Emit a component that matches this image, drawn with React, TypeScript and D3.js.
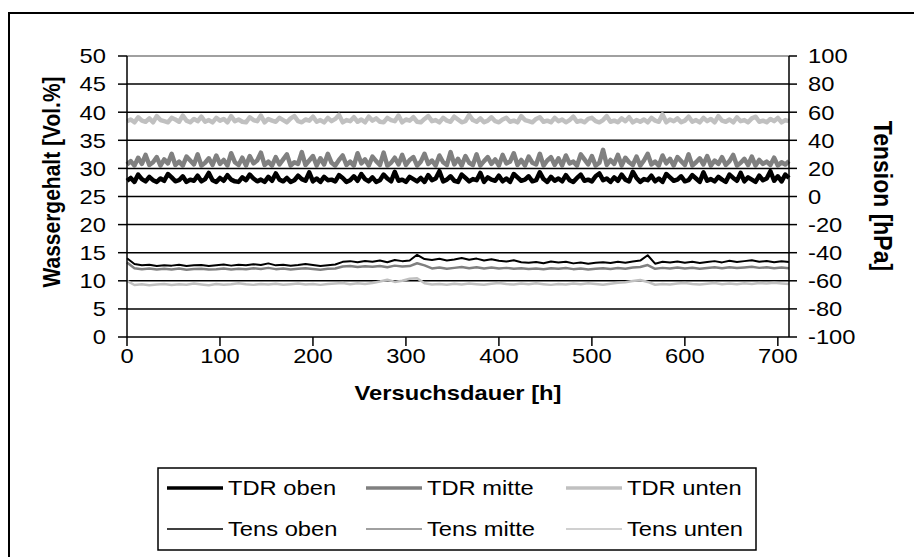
import React from 'react';
import * as d3 from 'd3';

// sampling intervals of the logged series (hours)
const STEP_TDR_H = 4;
const STEP_TENS_H = 8;

// Water content (Vol.%) – left axis
const tdrOben = [
  27.8,28.3,27.6,28.9,28.1,27.7,28.5,27.9,27.6,28.2,27.8,29.0,28.4,27.7,27.9,28.6,27.6,28.0,27.8,28.7,
  27.7,28.1,29.2,27.9,27.6,28.3,27.8,28.8,28.0,27.7,27.6,28.4,27.9,28.9,28.2,27.7,28.0,27.6,28.5,27.8,
  29.1,28.0,27.7,28.3,27.6,27.9,28.7,28.1,27.8,29.3,27.7,28.2,27.6,28.5,27.9,28.0,27.7,28.8,28.3,27.6,
  27.9,28.6,27.8,29.0,28.1,27.7,28.4,27.6,27.9,28.9,28.2,27.7,29.4,27.8,28.0,27.6,28.5,28.1,27.7,28.3,
  27.6,28.8,27.9,28.2,29.5,27.7,28.0,28.6,27.8,27.6,28.9,28.3,27.7,28.1,27.9,29.2,27.6,28.4,28.0,27.8,
  28.7,27.7,28.2,27.6,29.0,28.4,27.8,28.0,28.6,27.7,27.9,29.3,28.1,27.6,28.5,27.8,28.2,27.7,28.8,27.9,
  27.6,28.3,28.9,27.8,28.0,27.7,28.6,29.1,27.9,28.2,27.6,28.4,27.8,28.9,28.0,27.7,29.4,28.3,27.6,28.1,
  27.9,28.7,27.7,28.2,27.6,29.0,28.4,27.8,28.0,28.6,27.7,27.9,28.8,28.2,27.6,29.3,27.8,28.1,27.7,28.5,
  28.0,27.6,28.9,28.3,27.8,29.2,27.7,28.4,28.0,27.6,28.7,27.9,28.2,29.5,27.8,28.6,27.7,28.9,28.3,
];
const tdrMitte = [
  30.7,31.3,30.5,31.9,30.8,32.4,30.6,31.1,32.0,30.5,31.6,30.9,32.6,30.6,31.2,30.5,32.1,31.4,30.7,32.5,
  30.5,31.0,31.8,30.6,32.3,30.8,31.5,30.5,32.7,31.1,30.6,31.9,30.5,32.2,30.9,31.4,32.8,30.6,31.2,30.5,
  32.0,30.7,31.6,32.5,30.5,31.1,30.8,32.9,30.6,31.4,32.2,30.5,31.8,30.7,32.6,31.0,30.5,31.5,32.3,30.6,
  31.2,30.5,32.7,30.9,31.6,30.5,32.1,31.3,30.6,32.8,30.5,31.0,31.9,30.7,32.4,30.6,31.5,32.0,30.5,31.2,
  32.6,30.8,31.4,30.5,32.3,31.1,30.6,32.9,30.7,31.7,30.5,32.2,31.0,30.6,32.5,30.5,31.3,32.0,30.8,31.6,
  30.5,32.4,30.9,31.2,32.7,30.6,31.5,30.5,32.1,31.0,30.7,32.6,30.5,31.4,32.0,30.6,31.8,30.5,32.3,30.9,
  31.2,30.5,32.5,31.6,30.7,32.2,30.5,31.0,33.3,30.6,31.5,30.8,32.4,30.5,31.9,31.1,30.6,32.1,30.5,31.4,
  32.6,30.7,31.2,30.5,32.3,30.9,31.7,30.5,32.0,31.3,30.6,32.5,30.5,31.1,31.8,30.7,32.2,30.5,31.4,30.8,
  32.0,30.6,31.3,32.4,30.5,31.0,31.7,30.6,32.1,30.5,31.5,30.8,31.2,30.6,31.9,30.5,31.1,30.7,31.3,
];
const tdrUnten = [
  38.4,38.7,38.2,39.1,38.5,38.3,38.9,38.2,39.3,38.6,38.4,38.2,39.0,38.7,38.3,39.4,38.5,38.2,38.8,38.4,
  39.2,38.3,38.6,38.2,39.0,38.5,38.8,38.2,39.3,38.4,38.7,38.3,38.2,39.1,38.6,38.4,39.4,38.2,38.8,38.5,
  38.3,39.0,38.6,38.2,38.9,39.3,38.4,38.2,38.7,38.5,39.2,38.3,38.6,38.2,39.0,38.4,38.8,39.5,38.2,38.6,
  38.4,39.1,38.3,38.7,38.2,39.2,38.5,38.9,38.3,38.2,39.0,38.6,38.4,39.4,38.2,38.7,38.5,39.1,38.3,38.2,
  38.8,39.3,38.4,38.6,38.2,39.0,38.5,38.3,39.2,38.7,38.2,38.4,39.5,38.6,38.3,38.9,38.2,38.5,39.1,38.4,
  38.2,38.7,39.0,38.3,38.5,38.2,39.3,38.6,38.4,38.2,38.8,39.1,38.3,38.5,38.2,39.0,38.4,38.7,38.2,38.6,
  39.2,38.3,38.5,38.2,38.8,39.0,38.4,38.2,38.6,39.3,38.3,38.5,38.2,38.9,38.4,39.1,38.2,38.6,38.3,38.7,
  38.2,39.0,38.5,38.3,39.6,38.2,38.7,38.4,38.9,38.2,38.5,39.2,38.3,38.6,38.2,39.0,38.4,38.8,38.2,39.3,
  38.5,38.3,38.7,38.2,39.1,38.4,38.6,38.2,38.9,39.2,38.3,38.5,38.2,38.8,38.4,39.0,38.2,38.6,38.4,
];

// Tension (hPa) – right axis
const tensOben = [
  -44,-48,-49,-48.5,-49.5,-49,-49.2,-48.6,-49.4,-49,
  -48.8,-49.5,-49,-48.4,-49.2,-48.6,-49,-48.2,-48.8,-47.6,
  -49,-48.5,-49.3,-48.8,-48,-48.7,-49.5,-48.9,-48.4,-46.5,
  -46,-46.8,-45.9,-46.4,-45.6,-46.8,-45.2,-46,-45.5,-41.5,
  -44.5,-45.2,-44.3,-45.5,-44.8,-43.8,-45,-44.2,-45.6,-44.6,
  -45.8,-46.3,-45.4,-46.8,-47.2,-46.6,-47.5,-46.2,-47,-46.4,
  -47.6,-47,-47.8,-47.2,-46.8,-47.4,-46.5,-47.1,-46.2,-45.6,
  -41.8,-47.8,-46.5,-47,-46.2,-47.1,-46.4,-47.3,-46.7,-46,
  -46.9,-45.8,-46.6,-46,-45.4,-46.5,-45.9,-46.8,-46.1,-46.6,
];
const tensMitte = [
  -47,-51,-51.8,-51.2,-52,-51.5,-51.9,-51.3,-52.1,-51.6,
  -51.4,-52,-51.7,-51.2,-51.9,-51.4,-51.8,-51,-51.6,-50.8,
  -51.7,-51.3,-52,-51.5,-51,-51.6,-52.1,-51.5,-51.2,-49.8,
  -49.5,-50.2,-49.6,-50,-49.4,-50.3,-49.2,-49.8,-49.5,-47.5,
  -49,-51.2,-50.5,-51.4,-50.8,-50.2,-51,-50.4,-51.2,-50.6,
  -51.3,-50.8,-51.5,-51,-51.6,-51.2,-51.8,-51,-51.5,-50.9,
  -51.7,-51.3,-51.9,-51.4,-51,-51.6,-50.9,-51.4,-50.6,-50.2,
  -48.8,-51.5,-50.8,-51.3,-50.6,-51.2,-50.7,-51.4,-50.9,-50.4,
  -51.1,-50.3,-50.9,-50.5,-50,-50.8,-50.4,-51.1,-50.6,-51,
];
const tensUnten = [
  -60,-63,-62.4,-63.2,-62.6,-62.2,-63,-62.5,-62.8,-62,
  -62.6,-63.1,-62.3,-62.8,-62.4,-61.8,-62.5,-62.9,-62.2,-62.7,
  -62.1,-62.8,-62.4,-61.9,-62.6,-62.2,-62.9,-62.3,-62,-61.6,
  -62.4,-61.8,-62.2,-61.5,-60.5,-59.2,-60.8,-60,-58.6,-58.2,
  -61.8,-62.6,-62.2,-62.8,-62.1,-62.6,-61.9,-62.4,-62.8,-62.1,
  -61.6,-62.3,-62.7,-62,-62.5,-61.8,-62.4,-62.9,-62.2,-62.6,
  -61.9,-62.4,-61.7,-62.3,-62.8,-62.1,-61.4,-61,-60.2,-59.4,
  -60.8,-62.8,-62.2,-62.6,-62,-61.5,-62.3,-62.7,-62.1,-61.6,
  -62.4,-61.9,-62.5,-61.7,-62.2,-61.5,-62,-61.4,-61.9,-62.3,
];

const xTicks = [0, 100, 200, 300, 400, 500, 600, 700];
const yLeftTicks = [0, 5, 10, 15, 20, 25, 30, 35, 40, 45, 50];
const yRightTicks = [-100, -80, -60, -40, -20, 0, 20, 40, 60, 80, 100];

const xTitle = 'Versuchsdauer [h]';
const yLeftTitle = 'Wassergehalt [Vol.%]';
const yRightTitle = 'Tension [hPa]';

const seriesNames = ['TDR oben', 'TDR mitte', 'TDR unten', 'Tens oben', 'Tens mitte', 'Tens unten'];

const FONT = '"Liberation Sans", Arial, Helvetica, sans-serif';
const SX = 1.13;

const PL = 127, PR = 789, PT = 56, PB = 337;

function Txt(props: {
  x: number; y: number; anchor?: string; bold?: boolean; size?: number; rotate?: number; children: React.ReactNode;
}) {
  const { x, y, anchor = 'start', bold = false, size = 21, rotate } = props;
  const tr = `translate(${x},${y}) scale(${SX},1)` + (rotate ? ` rotate(${rotate})` : '');
  return (
    <text
      transform={tr}
      textAnchor={anchor as any}
      dy="0.35em"
      fontFamily={FONT}
      fontSize={size}
      fontWeight={bold ? 'bold' : 'normal'}
      fill="#000"
    >
      {props.children}
    </text>
  );
}

export default function App() {
  const x = d3.scaleLinear().domain([0, 712]).range([PL, PR]);
  const yL = d3.scaleLinear().domain([0, 50]).range([PB, PT]);
  const yR = d3.scaleLinear().domain([-100, 100]).range([PB, PT]);

  const lineL = d3.line<number>().x((_, i) => x(i * STEP_TDR_H)).y((d) => yL(d));
  const lineR = d3.line<number>().x((_, i) => x(i * STEP_TENS_H)).y((d) => yR(d));

  const series = [
    { name: seriesNames[0], data: tdrOben, path: lineL, color: '#000000', w: 4.5, lw: 3.5 },
    { name: seriesNames[1], data: tdrMitte, path: lineL, color: '#808080', w: 4.5, lw: 3.5 },
    { name: seriesNames[2], data: tdrUnten, path: lineL, color: '#c0c0c0', w: 4.5, lw: 3.5 },
    { name: seriesNames[3], data: tensOben, path: lineR, color: '#000000', w: 2, lw: 1.6 },
    { name: seriesNames[4], data: tensMitte, path: lineR, color: '#808080', w: 2.5, lw: 1.6 },
    { name: seriesNames[5], data: tensUnten, path: lineR, color: '#c0c0c0', w: 2.5, lw: 1.6 },
  ];

  const legendCols = [167, 366, 566];
  const legendRows = [488, 529];

  return (
    <svg
      width={914}
      height={557}
      style={{ position: 'absolute', left: 0, top: 0, background: '#fff' }}
    >
      <rect x={0} y={0} width={914} height={557} fill="#fff" />
      {/* outer chart border */}
      <rect x={9} y={13} width={1000} height={700} fill="none" stroke="#000" strokeWidth={2} />

      {/* gridlines */}
      {yLeftTicks.filter((t) => t > 0).map((t) => (
        <line
          key={'g' + t}
          x1={PL}
          x2={PR}
          y1={yL(t)}
          y2={yL(t)}
          stroke={t === 50 ? '#808080' : '#000'}
          strokeWidth={1.5}
        />
      ))}

      {/* series */}
      {series.map((s) => (
        <path
          key={s.name}
          d={s.path(s.data) || ''}
          fill="none"
          stroke={s.color}
          strokeWidth={s.w}
          strokeLinejoin="round"
        />
      ))}

      {/* axes */}
      <line x1={PL} x2={PL} y1={PT} y2={PB} stroke="#000" strokeWidth={1.5} />
      <line x1={PR} x2={PR} y1={PT} y2={PB} stroke="#000" strokeWidth={1.5} />
      <line x1={PL} x2={PR} y1={PB} y2={PB} stroke="#000" strokeWidth={1.5} />

      {yLeftTicks.map((t) => (
        <g key={'yl' + t}>
          <line x1={PL - 9} x2={PL} y1={yL(t)} y2={yL(t)} stroke="#000" strokeWidth={1.5} />
          <Txt x={106} y={yL(t)} anchor="end">{t}</Txt>
        </g>
      ))}
      {yRightTicks.map((t) => (
        <g key={'yr' + t}>
          <line x1={PR} x2={PR + 8} y1={yR(t)} y2={yR(t)} stroke="#000" strokeWidth={1.5} />
          <Txt x={808} y={yR(t)} anchor="start">{t}</Txt>
        </g>
      ))}
      {xTicks.map((t) => (
        <g key={'x' + t}>
          <line x1={x(t)} x2={x(t)} y1={PB} y2={PB + 9} stroke="#000" strokeWidth={1.5} />
          <Txt x={x(t)} y={356} anchor="middle">{t}</Txt>
        </g>
      ))}

      {/* titles */}
      <Txt x={(PL + PR) / 2} y={393} anchor="middle" bold>{xTitle}</Txt>
      <Txt x={52} y={182} anchor="middle" bold rotate={-90}>{yLeftTitle}</Txt>
      <Txt x={883} y={196} anchor="middle" bold rotate={90} size={23}>{yRightTitle}</Txt>

      {/* legend */}
      <rect x={158} y={468} width={598} height={82} fill="#fff" stroke="#000" strokeWidth={1.5} />
      {series.map((s, i) => {
        const cx = legendCols[i % 3];
        const cy = legendRows[Math.floor(i / 3)];
        return (
          <g key={'lg' + s.name}>
            <line x1={cx} x2={cx + 56} y1={cy} y2={cy} stroke={s.color} strokeWidth={s.lw} />
            <Txt x={cx + 61} y={cy} anchor="start">{s.name}</Txt>
          </g>
        );
      })}
    </svg>
  );
}
